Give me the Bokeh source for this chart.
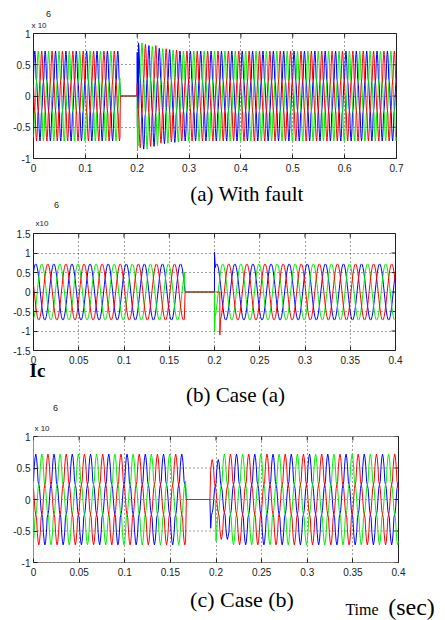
import numpy as np
from bokeh.plotting import figure
from bokeh.layouts import column
from bokeh.models import FixedTicker, LinearAxis, Range1d
from bokeh.embed import file_html
from bokeh.resources import INLINE

# ---------------- data (values in units of x10^6, time in s) ----------------
PERIOD = 0.02                      # 50 Hz
SAMPLES_PER_CYCLE = 24
# one cycle of a phase wave (per unit of its peak), panel (b)
SMOOTH_CYCLE = [0.00, 0.26, 0.50, 0.71, 0.87, 0.97, 1.00, 0.97, 0.87, 0.71, 0.50, 0.26,
                0.00, -0.26, -0.50, -0.71, -0.87, -0.97, -1.00, -0.97, -0.87, -0.71, -0.50, -0.26]
# one cycle of a phase wave with shoulders near +-0.3, panels (a) and (c)
STEPPED_CYCLE = [0.00, 0.24, 0.33, 0.40, 0.72, 0.92, 1.00, 0.92, 0.72, 0.40, 0.33, 0.24,
                 0.00, -0.24, -0.33, -0.40, -0.72, -0.92, -1.00, -0.92, -0.72, -0.40, -0.33, -0.24]
PEAK = 0.72
PHASE_START = {"blue": 3, "green": 19, "red": 11}   # sample index of each phase at t = 0
COLORS = {"blue": "#0000ff", "green": "#00ee00", "red": "#ff0000"}

# panel (a): with fault
A_END = 0.7
A_OPEN = 0.1667
A_CLOSE = {"blue": 0.2, "green": 0.2, "red": 0.2}
A_ENV = {"blue": [1.18, 1.12, 1.06, 1.03], "green": [1.18, 1.10, 1.05, 1.02], "red": [1.15, 1.12, 1.05, 1.02]}
A_BURST_T = {"blue": [0.2000, 0.2000, 0.2004, 0.2008, 0.2012, 0.2016, 0.2020],
             "green": [0.2000, 0.2000, 0.2005, 0.2010, 0.2015],
             "red": []}
A_BURST_V = {"blue": [0.00, 0.70, -0.50, 0.62, -0.35, 0.55, -0.20],
             "green": [0.00, -0.30, -0.88, -0.20, -0.80],
             "red": []}

# panel (b): case (a)
B_END = 0.4
B_OPEN = 0.1667
B_CLOSE = {"blue": 0.2, "green": 0.2, "red": 0.2059}
B_SPIKE_T = {"blue": [0.2000, 0.2000, 0.2005], "green": [0.2000, 0.2000, 0.2005], "red": [0.2059, 0.2059]}
B_SPIKE_V = {"blue": [0.00, 1.02, 0.80], "green": [0.00, -1.03, -0.78], "red": [0.00, -1.10]}

# panel (c): case (b)
C_END = 0.4
C_OPEN = 0.1667
C_CLOSE = {"blue": 0.1935, "green": 0.2, "red": 0.1935}
C_ENV = {"blue": [0.88, 1.0], "green": [1.0], "red": [0.88, 1.0]}

A_XTICKS = [0, 0.1, 0.2, 0.3, 0.4, 0.5, 0.6, 0.7]
A_XLABELS = ["0", "0.1", "0.2", "0.3", "0.4", "0.5", "0.6", "0.7"]
BC_XTICKS = [0, 0.05, 0.1, 0.15, 0.2, 0.25, 0.3, 0.35, 0.4]
BC_XLABELS = ["0", "0.05", "0.1", "0.15", "0.2", "0.25", "0.3", "0.35", "0.4"]
AC_YTICKS = [-1, -0.5, 0, 0.5, 1]
AC_YLABELS = ["-1", "-0.5", "0", "0.5", "1"]
B_YTICKS = [-1.5, -1, -0.5, 0, 0.5, 1, 1.5]
B_YLABELS = ["-1.5", "-1", "-0.5", "0", "0.5", "1", "1.5"]

CAPTIONS = ["(a) With fault", "(b) Case (a)", "(c) Case (b)"]
EXP_BASE = ["x 10", "x10", "x 10"]
EXP_POWER = "6"
X_UNIT = ["Time", "(sec)"]
STRAY = "Ic"

DT = PERIOD / SAMPLES_PER_CYCLE
FONT = "Liberation Sans"
SERIF = "Liberation Serif"
INK = "#222222"
TICK_PX = 4
CANVAS_W = 445


def phase_series(t_end, shape, phase, t_open, t_close, env=None, ins_t=None, ins_v=None):
    n = np.arange(int(round(t_end / DT)) + 1)
    t = n * DT
    v = PEAK * np.asarray(shape)[(n + PHASE_START[phase]) % SAMPLES_PER_CYCLE]
    if env:
        k = np.floor((t - t_close) / PERIOD + 1e-9).astype(int)
        for i, m in enumerate(env):
            v[(t >= t_close - 1e-9) & (k == i)] *= m
    v[(t >= t_open) & (t < t_close - 1e-9)] = 0.0
    if ins_t:
        t0, t1 = ins_t[0] - 1e-9, ins_t[-1] + 1e-9
        before = t < t0
        after = t > t1
        t = np.concatenate([t[before], ins_t, t[after]])
        v = np.concatenate([v[before], ins_v, v[after]])
    return t, v


class Panel:
    def __init__(self, box_w, box_h, top, bottom, left, xmax, xticks, xlabels,
                 ylo, yhi, yticks, ylabels, extend_right=False):
        self.left, self.box_w, self.xmax = left, box_w, xmax
        if extend_right:
            fw = CANVAS_W - left
            right = 0
        else:
            fw = box_w
            right = CANVAS_W - left - box_w
        x_end = xmax * fw / box_w
        p = figure(frame_width=fw, frame_height=box_h, output_backend="svg", toolbar_location=None,
                   x_range=Range1d(0, x_end), y_range=Range1d(ylo, yhi),
                   min_border_top=top, min_border_bottom=bottom,
                   min_border_left=left, min_border_right=right)
        p.background_fill_color = "white"
        p.border_fill_color = "white"
        for ax, ticks, labels in ((p.xaxis[0], xticks, xlabels), (p.yaxis[0], yticks, ylabels)):
            ax.ticker = FixedTicker(ticks=ticks, minor_ticks=[])
            ax.major_label_overrides = {tk: lb for tk, lb in zip(ticks, labels)}
            ax.axis_line_color = None
            ax.major_tick_in = TICK_PX
            ax.major_tick_out = 0
            ax.major_tick_line_color = INK
            ax.minor_tick_line_color = None
            ax.major_label_text_font = FONT
            ax.major_label_text_font_size = "10px"
            ax.major_label_text_color = INK
        p.yaxis[0].major_label_standoff = 3
        p.xaxis[0].major_label_standoff = 5
        p.xgrid.ticker = FixedTicker(ticks=xticks, minor_ticks=[])
        p.xgrid.grid_line_color = "#333333"
        p.xgrid.grid_line_dash = "1 3"
        p.xgrid.grid_line_alpha = 0.9
        if extend_right:
            # horizontal grid lines and frame box only over the plotted time span
            p.ygrid.visible = False
            p.segment(x0=[0] * len(yticks), y0=yticks, x1=[xmax] * len(yticks), y1=yticks,
                      line_color="#333333", line_dash="1 3", line_alpha=0.9, line_width=1)
            p.outline_line_color = None
            p.quad(left=[0], right=[xmax], bottom=[ylo], top=[yhi], fill_color=None,
                   line_color=INK, line_width=1)
        else:
            p.ygrid.ticker = FixedTicker(ticks=yticks, minor_ticks=[])
            p.ygrid.grid_line_color = "#333333"
            p.ygrid.grid_line_dash = "1 3"
            p.ygrid.grid_line_alpha = 0.9
            p.outline_line_color = INK
        # matching inward ticks on the top and right edges (box style)
        ly = (yhi - ylo) * TICK_PX / box_h
        lx = xmax * TICK_PX / box_w
        p.segment(x0=xticks, y0=[yhi] * len(xticks), x1=xticks, y1=[yhi - ly] * len(xticks),
                  line_color=INK, line_width=1)
        p.segment(x0=[xmax] * len(yticks), y0=yticks, x1=[xmax - lx] * len(yticks), y1=yticks,
                  line_color=INK, line_width=1)
        self.p = p

    def xdata(self, px):
        """canvas x pixel -> data x"""
        return (px - self.left) / self.box_w * self.xmax

    def text_row(self, loc, px_center, text, font, size, standoff, style="normal", color="black"):
        x = round(self.xdata(px_center), 5)
        ax = LinearAxis(ticker=FixedTicker(ticks=[x], minor_ticks=[]),
                        major_label_overrides={x: text}, axis_line_color=None,
                        major_tick_line_color=None, minor_tick_line_color=None,
                        major_tick_in=0, major_tick_out=0, minor_tick_in=0, minor_tick_out=0,
                        major_label_standoff=standoff, major_label_text_font=font,
                        major_label_text_font_size=size, major_label_text_font_style=style,
                        major_label_text_color=color)
        self.p.add_layout(ax, loc)


def draw(panel, t_end, shape, t_open, closes, env=None, ins_t=None, ins_v=None):
    for ph in ("blue", "green", "red"):
        t, v = phase_series(t_end, shape, ph, t_open, closes[ph],
                            env=env[ph] if env else None,
                            ins_t=ins_t[ph] if ins_t else None,
                            ins_v=ins_v[ph] if ins_v else None)
        panel.p.line(t, v, line_color=COLORS[ph], line_width=1.0)


# ---------------- panel (a) ----------------
A = Panel(363, 125, 33, 57, 30, A_END, A_XTICKS, A_XLABELS, -1, 1, AC_YTICKS, AC_YLABELS)
draw(A, A_END, STEPPED_CYCLE, A_OPEN, A_CLOSE, env=A_ENV, ins_t=A_BURST_T, ins_v=A_BURST_V)
A.text_row("above", 35.5, EXP_BASE[0], FONT, "8px", 4, color=INK)
A.text_row("above", 45, EXP_POWER, FONT, "9px", 1, color=INK)
A.text_row("below", 243.5, CAPTIONS[0], SERIF, "21px", 7)
A.text_row("below", 53, EXP_POWER, FONT, "9px", -7, color=INK)      # exponent of panel (b)

# ---------------- panel (b) ----------------
B = Panel(362, 117, 17, 70, 33, B_END, BC_XTICKS, BC_XLABELS, -1.5, 1.5, B_YTICKS, B_YLABELS)
draw(B, B_END, SMOOTH_CYCLE, B_OPEN, B_CLOSE, ins_t=B_SPIKE_T, ins_v=B_SPIKE_V)
B.text_row("above", 41.5, EXP_BASE[1], FONT, "8px", 6, color=INK)
B.text_row("below", 37, STRAY, SERIF, "19px", -7, style="bold")
B.text_row("below", 235, CAPTIONS[1], SERIF, "21px", -1)
B.text_row("below", 55, EXP_POWER, FONT, "9px", -5, color=INK)     # exponent of panel (c)

# ---------------- panel (c) ----------------
C = Panel(365, 126, 14, 61, 33, C_END, BC_XTICKS, BC_XLABELS, -1, 1, AC_YTICKS, AC_YLABELS,
          extend_right=True)
draw(C, C_END, STEPPED_CYCLE, C_OPEN, C_CLOSE, env=C_ENV)
C.text_row("above", 41.5, EXP_BASE[2], FONT, "8px", 4, color=INK)
C.text_row("below", 241.5, CAPTIONS[2], SERIF, "22px", 8)
C.text_row("below", 411, X_UNIT[1], SERIF, "24px", -21)
C.text_row("below", 361.5, X_UNIT[0], SERIF, "16px", -22)

layout = column(A.p, B.p, C.p, spacing=0)
open("out.html", "w").write(file_html(layout, INLINE))
